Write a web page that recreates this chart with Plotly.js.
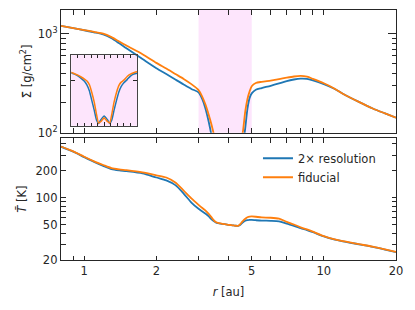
<!DOCTYPE html>
<html>
<head>
<meta charset="utf-8">
<script src="https://cdn.plot.ly/plotly-3.0.1.min.js"></script>
<style>
html,body{margin:0;padding:0;background:#fff;}
#chart{width:415px;height:310px;}
</style>
</head>
<body>
<div id="chart"></div>
<script>
// radius [au]
const r = [0.8, 0.9, 1.0, 1.1, 1.2, 1.3, 1.4, 1.5, 1.75, 2.0,
  2.2, 2.4, 2.6, 2.8, 3.0, 3.1, 3.2, 3.3, 3.4, 3.47,
  3.55, 3.62, 3.7, 3.77, 3.83, 3.9, 4.0, 4.1, 4.17, 4.23,
  4.3, 4.38, 4.45, 4.52, 4.6, 4.7, 4.8, 4.9, 5.0, 5.2,
  5.5, 6.0, 6.5, 7.0, 7.5, 8.0, 8.5, 9.0, 10, 11,
  12, 14, 16, 18, 20];

// surface density [g/cm^2]
const sigmaFiducial = [1200, 1140, 1090, 1045, 1005, 925, 835, 760, 622, 508,
  445, 392, 350, 310, 270, 235, 195, 155, 120, 97,
  60, 24, 6.5, 1.4, 0.5, 0.6, 0.95, 0.6, 0.5, 1.4,
  6.5, 24, 55, 82, 105, 165, 220, 262, 295, 318,
  327, 337, 348, 360, 370, 375, 368, 350, 316, 282,
  248, 205, 176, 157, 142];
const sigma2x = [1200, 1140, 1085, 1035, 985, 900, 800, 713, 556, 449,
  392, 345, 307, 277, 256, 222, 178, 132, 92, 60,
  28, 9, 2.4, 0.7, 0.47, 0.75, 1.2, 0.75, 0.47, 0.7,
  2.4, 9, 25, 48, 75, 112, 175, 225, 250, 272,
  283, 298, 315, 333, 345, 352, 350, 338, 310, 280,
  248, 205, 176, 157, 142];

// temperature [K]
const tempFiducial = [374, 330, 287, 255, 232, 214, 207, 203, 192, 178,
  168, 148, 120, 98, 83, 77, 72, 66, 60, 56,
  53, 52, 51.3, 50.8, 50.5, 50.2, 49.6, 49.2, 48.9, 48.6,
  48.4, 48.3, 49.5, 52, 55, 58, 60.3, 61.2, 61.5, 61,
  60, 59.5, 58, 53.5, 50, 46.5, 44, 41.5, 37, 34.3,
  32.5, 30.1, 28.2, 26.3, 24.6];
const temp2x = [372, 327, 284, 251, 227, 209, 202, 198, 187, 168,
  156, 138, 111, 88, 75, 70.5, 66.5, 62, 57, 54.5,
  52.5, 51.8, 51.2, 50.8, 50.5, 50.2, 49.6, 49.2, 48.9, 48.6,
  48.4, 48.3, 49, 50.8, 53, 55, 55.8, 56.2, 56.3, 55.8,
  55.2, 55, 54.3, 51, 48.3, 45.5, 43.2, 41, 36.7, 34.1,
  32.4, 30, 28.1, 26.2, 24.5];

const seriesNames = ['2\u00d7 resolution', 'fiducial'];
const gapEdges = [3, 5];

// ticks
const xTickVals = [1, 2, 5, 10, 20];
const xTickText = ['1', '2', '5', '10', '20'];
const xMinorVals = [0.8, 0.9, 3, 4, 6, 7, 8, 9];
const xLongVals = [1, 10];
const sigTickVals = [100, 1000];
const sigTickText = ['10<sup>2</sup>', '10<sup>3</sup>'];
const sigMinorVals = [200, 300, 400, 500, 600, 700, 800, 900];
const tTickVals = [20, 50, 100, 200];
const tTickText = ['20', '50', '100', '200'];
const tMinorVals = [30, 40, 60, 70, 80, 90, 300, 400];
const tLongVals = [100];
const insetXTicks = [4];
const insetXMinor = [3.2, 3.4, 3.6, 3.8, 4.2, 4.4, 4.6, 4.8];
const insetYTicks = [100];

const BLUE = '#1f77b4', ORANGE = '#ff7f0e';
const AX = '#262626';
const PINK = 'rgb(253,229,252)';
const FONT = 'DejaVu Sans';
const FS = 11.5;

const xr = [Math.log10(0.8), Math.log10(20)];

function baseAxis(extra) {
  return Object.assign({
    showgrid: false, zeroline: false, showline: true, linecolor: AX, linewidth: 1.2,
    ticks: 'inside', tickcolor: AX, tickwidth: 1, ticklen: 4.5, mirror: 'allticks',
    tickfont: {family: FONT, size: FS, color: AX}
  }, extra);
}
function longAxis(extra) {
  return Object.assign({
    showgrid: false, zeroline: false, showline: false,
    ticks: 'inside', tickcolor: AX, tickwidth: 1, ticklen: 8, mirror: 'ticks',
    showticklabels: false, tickmode: 'array'
  }, extra);
}

const lw = 1.8;
const sm = 0.7;
const traces = [
  {x: r, y: sigma2x, xaxis: 'x2', yaxis: 'y2', mode: 'lines', line: {color: BLUE, width: lw, shape: 'spline', smoothing: sm}, showlegend: false, name: seriesNames[0]},
  {x: r, y: sigmaFiducial, xaxis: 'x2', yaxis: 'y2', mode: 'lines', line: {color: ORANGE, width: lw, shape: 'spline', smoothing: sm}, showlegend: false, name: seriesNames[1]},
  {x: r, y: temp2x, xaxis: 'x', yaxis: 'y', mode: 'lines', line: {color: BLUE, width: lw, shape: 'spline', smoothing: sm}, name: seriesNames[0]},
  {x: r, y: tempFiducial, xaxis: 'x', yaxis: 'y', mode: 'lines', line: {color: ORANGE, width: lw, shape: 'spline', smoothing: sm}, name: seriesNames[1]},
  {x: r, y: sigma2x, xaxis: 'x5', yaxis: 'y5', mode: 'lines', line: {color: BLUE, width: 1.5, shape: 'spline', smoothing: 0.5}, showlegend: false},
  {x: r, y: sigmaFiducial, xaxis: 'x5', yaxis: 'y5', mode: 'lines', line: {color: ORANGE, width: 1.5, shape: 'spline', smoothing: 0.5}, showlegend: false}
];

const layout = {
  width: 415, height: 310,
  margin: {l: 61, r: 19, t: 10, b: 50, pad: 0},
  paper_bgcolor: '#fff', plot_bgcolor: 'rgba(0,0,0,0)',
  font: {family: FONT, size: FS, color: AX},
  showlegend: true,
  legend: {x: 0.588, y: 0.465, xanchor: 'left', yanchor: 'top', bgcolor: 'rgba(0,0,0,0)',
    font: {family: FONT, size: FS, color: AX}, tracegroupgap: 0},
  xaxis: baseAxis({type: 'log', range: xr, domain: [0, 1], anchor: 'y', automargin: true,
    tickmode: 'array', tickvals: xTickVals, ticktext: xTickText,
    minor: {tickmode: 'array', tickvals: xMinorVals, ticklen: 4.5, ticks: 'inside', tickcolor: AX, tickwidth: 1},
    title: {text: '<i>r</i> [au]', font: {family: FONT, size: FS, color: AX}, standoff: 11}}),
  xaxis3: longAxis({type: 'log', range: xr, overlaying: 'x', anchor: 'y', side: 'bottom', tickvals: xLongVals}),
  xaxis2: baseAxis({type: 'log', range: xr, domain: [0, 1], anchor: 'y2',
    tickmode: 'array', tickvals: xTickVals, showticklabels: false,
    minor: {tickmode: 'array', tickvals: xMinorVals, ticklen: 4.5, ticks: 'inside', tickcolor: AX, tickwidth: 1}}),
  xaxis4: longAxis({type: 'log', range: xr, overlaying: 'x2', anchor: 'y2', side: 'bottom', tickvals: xLongVals}),
  yaxis: baseAxis({type: 'log', range: [Math.log10(20), 2.665], domain: [0, 0.487], anchor: 'x', automargin: true,
    tickmode: 'array', tickvals: tTickVals, ticktext: tTickText,
    minor: {tickmode: 'array', tickvals: tMinorVals, ticklen: 4.5, ticks: 'inside', tickcolor: AX, tickwidth: 1},
    title: {text: '<i>T\u0304</i> [K]', font: {family: FONT, size: FS, color: AX}, standoff: 6}}),
  yaxis3: longAxis({type: 'log', range: [Math.log10(20), 2.665], overlaying: 'y', anchor: 'x', side: 'left', tickvals: tLongVals}),
  yaxis2: baseAxis({type: 'log', range: [2, 3.24], domain: [0.509, 1], anchor: 'x2', automargin: true,
    tickmode: 'array', tickvals: sigTickVals, ticktext: sigTickText, ticklen: 8,
    minor: {tickmode: 'array', tickvals: sigMinorVals, ticklen: 4.5, ticks: 'inside', tickcolor: AX, tickwidth: 1},
    title: {text: '\u03a3\u0304 [g/cm<sup>2</sup>]', font: {family: FONT, size: FS, color: AX}, standoff: 3}}),
  xaxis5: baseAxis({type: 'linear', range: gapEdges, domain: [0.0307, 0.2269], anchor: 'y5',
    tickmode: 'array', tickvals: insetXTicks, showticklabels: false, ticklen: 4, linewidth: 1.1, linecolor: '#444',
    minor: {tickmode: 'array', tickvals: insetXMinor, ticklen: 3, ticks: 'inside', tickcolor: AX, tickwidth: 1}}),
  yaxis5: baseAxis({type: 'log', range: [-0.45, 3.37], domain: [0.537, 0.819], anchor: 'x5',
    tickmode: 'array', tickvals: insetYTicks, showticklabels: false, ticklen: 4, linewidth: 1.1, linecolor: '#444'}),
  shapes: [
    {type: 'rect', xref: 'x2', yref: 'y2 domain', x0: gapEdges[0], x1: gapEdges[1], y0: 0, y1: 1,
      fillcolor: PINK, line: {width: 0}, layer: 'below'},
    {type: 'rect', xref: 'x5 domain', yref: 'y5 domain', x0: 0, x1: 1, y0: 0, y1: 1,
      fillcolor: PINK, line: {width: 0}, layer: 'below'}
  ]
};

Plotly.newPlot('chart', traces, layout, {staticPlot: true, displayModeBar: false});
</script>
</body>
</html>
